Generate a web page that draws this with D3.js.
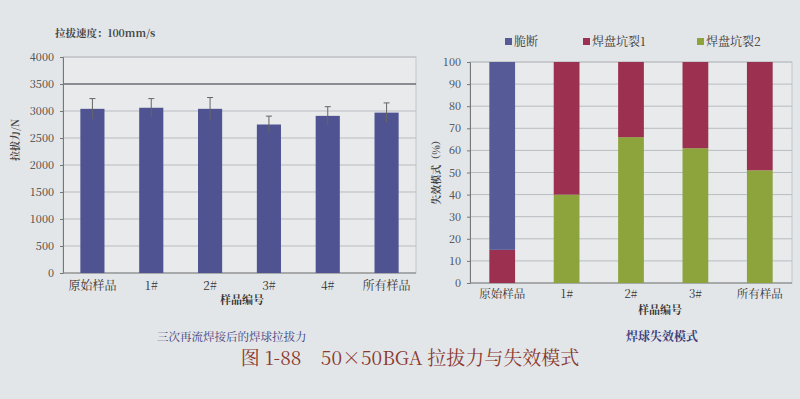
<!DOCTYPE html>
<html>
<head>
<meta charset="utf-8">
<script src="https://cdn.jsdelivr.net/npm/d3@7"></script>
<style>
body { margin: 0; background: #e3e6e9; }
svg { display: block; }
</style>
</head>
<body>
<script>
// left chart: pull force
var samples = ["原始样品", "1#", "2#", "3#", "4#", "所有样品"];
var force = [3040, 3060, 3040, 2750, 2910, 2970];
var forceErr = [190, 170, 210, 155, 170, 180];
var forceTicks = [0, 500, 1000, 1500, 2000, 2500, 3000, 3500, 4000];

// right chart: failure modes (%)
var modeSamples = ["原始样品", "1#", "2#", "3#", "所有样品"];
var modes = ["焊盘坑裂2", "焊盘坑裂1", "脆断"];
var crack2 = [0, 40, 66, 61, 51];
var crack1 = [15, 60, 34, 39, 49];
var brittle = [85, 0, 0, 0, 0];
var modeColors = ["#8da43c", "#9c3050", "#565b97"];

var W = 800, H = 399;
var font = "'Noto Serif CJK SC', 'Noto Sans CJK SC', serif";

var svg = d3.select("body").append("svg")
    .attr("width", W)
    .attr("height", H)
    .style("font-family", font);

// ---------- left chart ----------
var x1 = d3.scaleBand().domain(samples).range([63, 416]).paddingInner(0.59).paddingOuter(0.295);
var y1 = d3.scaleLinear().domain([0, 4000]).range([273, 57]);

var g1 = svg.append("g");

g1.append("rect")
    .attr("x", 63).attr("y", 57)
    .attr("width", 353).attr("height", 216)
    .attr("fill", "#e8eaec")
    .attr("stroke", "#c4c7ca");

g1.selectAll(".grid")
    .data(forceTicks)
    .enter()
    .append("line")
    .attr("x1", 63).attr("x2", 416)
    .attr("y1", function(d) { return y1(d); })
    .attr("y2", function(d) { return y1(d); })
    .attr("stroke", function(d) { return d == 3500 ? "#6a6d72" : "#b9bcc0"; })
    .attr("stroke-width", function(d) { return d == 3500 ? 1.3 : 1; });

var ax1 = g1.append("g")
    .attr("transform", "translate(63,0)")
    .call(d3.axisLeft(y1).tickValues(forceTicks).tickFormat(d3.format("d")).tickSize(3).tickPadding(6));
ax1.select(".domain").attr("stroke", "#777");
ax1.selectAll("line").attr("stroke", "#777");
ax1.selectAll("text").attr("font-size", 11).attr("fill", "#444").style("font-family", font);

g1.append("line")
    .attr("x1", 63).attr("x2", 416).attr("y1", 273).attr("y2", 273)
    .attr("stroke", "#888");

g1.selectAll(".bar")
    .data(samples)
    .enter()
    .append("rect")
    .attr("x", function(d) { return x1(d); })
    .attr("y", function(d, i) { return y1(force[i]); })
    .attr("width", x1.bandwidth())
    .attr("height", function(d, i) { return y1(0) - y1(force[i]); })
    .attr("fill", "#4f5391");

// error bars
var eb = g1.selectAll(".err")
    .data(samples)
    .enter()
    .append("g");
eb.append("line")
    .attr("x1", function(d) { return x1(d) + x1.bandwidth() / 2; })
    .attr("x2", function(d) { return x1(d) + x1.bandwidth() / 2; })
    .attr("y1", function(d, i) { return y1(force[i] - forceErr[i]); })
    .attr("y2", function(d, i) { return y1(force[i] + forceErr[i]); })
    .attr("stroke", "#666").attr("stroke-width", 1);
eb.append("line")
    .attr("x1", function(d) { return x1(d) + x1.bandwidth() / 2 - 3; })
    .attr("x2", function(d) { return x1(d) + x1.bandwidth() / 2 + 3; })
    .attr("y1", function(d, i) { return y1(force[i] + forceErr[i]); })
    .attr("y2", function(d, i) { return y1(force[i] + forceErr[i]); })
    .attr("stroke", "#666").attr("stroke-width", 1);

g1.selectAll(".xl")
    .data(samples)
    .enter()
    .append("text")
    .attr("x", function(d) { return x1(d) + x1.bandwidth() / 2; })
    .attr("y", 290)
    .attr("text-anchor", "middle")
    .attr("font-size", 12)
    .attr("fill", "#333")
    .text(function(d) { return d; });

g1.append("text")
    .attr("x", 242).attr("y", 304)
    .attr("text-anchor", "middle")
    .attr("font-size", 11).attr("font-weight", "bold").attr("fill", "#333")
    .text("样品编号");

g1.append("text")
    .attr("transform", "translate(19,140) rotate(-90)")
    .attr("text-anchor", "middle")
    .attr("font-size", 10).attr("font-weight", "bold").attr("fill", "#444")
    .text("拉拔力/N");

g1.append("text")
    .attr("x", 55).attr("y", 37)
    .attr("font-size", 10.5).attr("font-weight", "bold").attr("fill", "#444")
    .text("拉拔速度：100mm/s");

g1.append("text")
    .attr("x", 157).attr("y", 341)
    .attr("font-size", 11.5).attr("fill", "#3d3d7a")
    .text("三次再流焊接后的焊球拉拔力");

// ---------- right chart ----------
var x2 = d3.scaleBand().domain(modeSamples).range([470, 792]).paddingInner(0.6).paddingOuter(0.3);
var y2 = d3.scaleLinear().domain([0, 100]).range([283, 62]);

var table = modeSamples.map(function(d, i) {
    return { name: d, "焊盘坑裂2": crack2[i], "焊盘坑裂1": crack1[i], "脆断": brittle[i] };
});
var stacked = d3.stack().keys(modes)(table);

var g2 = svg.append("g");

g2.append("rect")
    .attr("x", 470).attr("y", 62)
    .attr("width", 322).attr("height", 221)
    .attr("fill", "#e8eaec")
    .attr("stroke", "#c4c7ca");

g2.selectAll(".grid")
    .data(d3.range(0, 101, 10))
    .enter()
    .append("line")
    .attr("x1", 470).attr("x2", 792)
    .attr("y1", function(d) { return y2(d); })
    .attr("y2", function(d) { return y2(d); })
    .attr("stroke", "#b9bcc0");

var ax2 = g2.append("g")
    .attr("transform", "translate(470,0)")
    .call(d3.axisLeft(y2).tickValues(d3.range(0, 101, 10)).tickSize(3).tickPadding(6));
ax2.select(".domain").attr("stroke", "#777");
ax2.selectAll("line").attr("stroke", "#777");
ax2.selectAll("text").attr("font-size", 11).attr("fill", "#444").style("font-family", font);

g2.append("line")
    .attr("x1", 470).attr("x2", 792).attr("y1", 283).attr("y2", 283)
    .attr("stroke", "#888");

g2.selectAll(".layer")
    .data(stacked)
    .enter()
    .append("g")
    .attr("fill", function(d, i) { return modeColors[i]; })
    .selectAll("rect")
    .data(function(d) { return d; })
    .enter()
    .append("rect")
    .attr("x", function(d) { return x2(d.data.name); })
    .attr("y", function(d) { return y2(d[1]); })
    .attr("width", x2.bandwidth())
    .attr("height", function(d) { return y2(d[0]) - y2(d[1]); });

g2.selectAll(".xl")
    .data(modeSamples)
    .enter()
    .append("text")
    .attr("x", function(d) { return x2(d) + x2.bandwidth() / 2; })
    .attr("y", 298)
    .attr("text-anchor", "middle")
    .attr("font-size", 11.5)
    .attr("fill", "#333")
    .text(function(d) { return d; });

g2.append("text")
    .attr("x", 660).attr("y", 314)
    .attr("text-anchor", "middle")
    .attr("font-size", 11).attr("font-weight", "bold").attr("fill", "#333")
    .text("样品编号");

g2.append("text")
    .attr("transform", "translate(440,170) rotate(-90)")
    .attr("text-anchor", "middle")
    .attr("font-size", 10).attr("font-weight", "bold").attr("fill", "#444")
    .text("失效模式（%）");

// legend
var legendX = [505, 583, 697];
var legendOrder = ["脆断", "焊盘坑裂1", "焊盘坑裂2"];
var lg = g2.selectAll(".legend")
    .data(legendOrder)
    .enter()
    .append("g")
    .attr("transform", function(d, i) { return "translate(" + legendX[i] + ",46)"; });
lg.append("rect")
    .attr("x", 0).attr("y", -8)
    .attr("width", 7).attr("height", 7)
    .attr("fill", function(d) { return modeColors[modes.indexOf(d)]; });
lg.append("text")
    .attr("x", 9).attr("y", 0)
    .attr("font-size", 12).attr("fill", "#333")
    .text(function(d) { return d; });

g2.append("text")
    .attr("x", 662).attr("y", 341)
    .attr("text-anchor", "middle")
    .attr("font-size", 12).attr("font-weight", "bold").attr("fill", "#3d3d7a")
    .text("焊球失效模式");

// caption
svg.append("text")
    .attr("x", 410).attr("y", 365)
    .attr("text-anchor", "middle")
    .attr("font-size", 19)
    .attr("fill", "#8b3a2e")
    .attr("xml:space", "preserve")
    .text("图 1-88    50×50BGA 拉拔力与失效模式");
</script>
</body>
</html>
